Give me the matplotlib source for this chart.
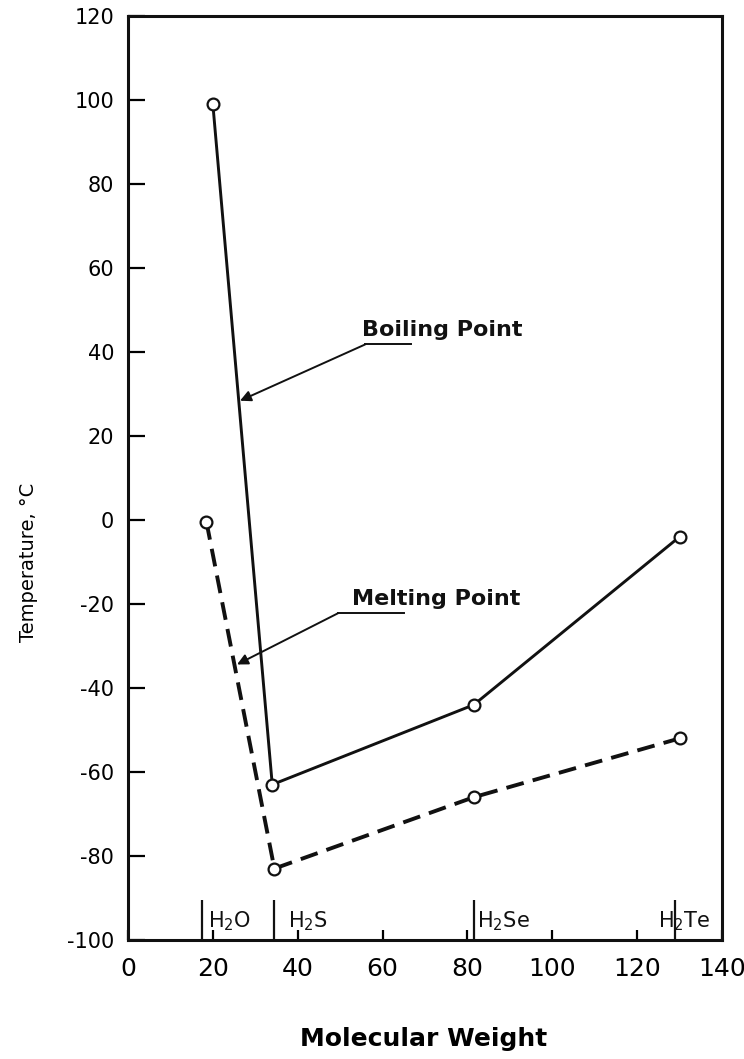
import matplotlib
matplotlib.use('Agg')
import matplotlib.pyplot as plt

# values (x as drawn, molecular weight)
bp_mw = [20, 34, 81.5, 130]
bp_temp = [99, -63, -44, -4]
mp_mw = [18.5, 34.5, 81.5, 130]
mp_temp = [-0.5, -83, -66, -52]

compound_mw = [17.5, 34.5, 81.5, 129]
compound_labels = ['H$_2$O', 'H$_2$S', 'H$_2$Se', 'H$_2$Te']
label_x = [18.8, 37.8, 82.3, 125]

xticks = [0, 20, 40, 60, 80, 100, 120, 140]
yticks = list(range(-100, 121, 20))

plt.rcParams['font.family'] = ['DejaVu Sans']
plt.rcParams['mathtext.default'] = 'regular'
plt.rcParams['axes.unicode_minus'] = False

fig = plt.figure(figsize=(7.44, 10.59), dpi=100)
ax = fig.add_axes([128 / 744, 1 - 940 / 1059, 594 / 744, 924 / 1059])

ax.plot(bp_mw, bp_temp, '-', color='#111111', lw=2.1,
        marker='o', ms=8.5, mfc='white', mec='#111111', mew=1.6, zorder=3)
ax.plot(mp_mw, mp_temp, color='#111111', lw=2.8, dashes=(4.6, 2.4),
        marker='o', ms=8.5, mfc='white', mec='#111111', mew=1.6, zorder=3)

ax.set_xlim(0, 140)
ax.set_ylim(-100, 120)
ax.set_xticks(xticks)
ax.set_yticks(yticks)
ax.tick_params(axis='y', direction='in', length=12, width=1.6,
               labelsize=15, pad=10)
ax.tick_params(axis='x', direction='in', length=7, width=1.6,
               labelsize=18, pad=12)
for s in ax.spines.values():
    s.set_linewidth(2.2)
    s.set_color('#111111')

# compound markers along the x axis
ax.vlines(compound_mw, -100, -90.5, color='#111111', lw=1.6)
for xl, lab in zip(label_x, compound_labels):
    ax.text(xl, -97, lab, fontsize=15, ha='left', va='baseline', color='#111111')

# callouts
ax.annotate('', xy=(26.4, 28.4), xytext=(55.9, 41.8),
            arrowprops=dict(arrowstyle='-|>', color='#111111', lw=1.4,
                            mutation_scale=16, shrinkA=0, shrinkB=0))
ax.plot([55.9, 66.6], [41.8, 41.8], color='#111111', lw=1.4)
ax.text(55.2, 43.9, 'Boiling Point', fontsize=16, fontweight='bold',
        ha='left', va='baseline', color='#111111')

ax.annotate('', xy=(25.7, -34.4), xytext=(49.5, -22.2),
            arrowprops=dict(arrowstyle='-|>', color='#111111', lw=1.4,
                            mutation_scale=16, shrinkA=0, shrinkB=0))
ax.plot([49.5, 65.0], [-22.2, -22.2], color='#111111', lw=1.4)
ax.text(52.8, -20.3, 'Melting Point', fontsize=16, fontweight='bold',
        ha='left', va='baseline', color='#111111')

ax.set_ylabel('Temperature, \u00b0C', fontsize=14, fontweight='medium', va='center')
ax.yaxis.set_label_coords(-0.168, 0.409)
ax.set_xlabel('Molecular Weight', fontsize=18, fontweight='bold', va='center')
ax.xaxis.set_label_coords(0.497, -0.107)

fig.savefig('out.png', dpi=100)
